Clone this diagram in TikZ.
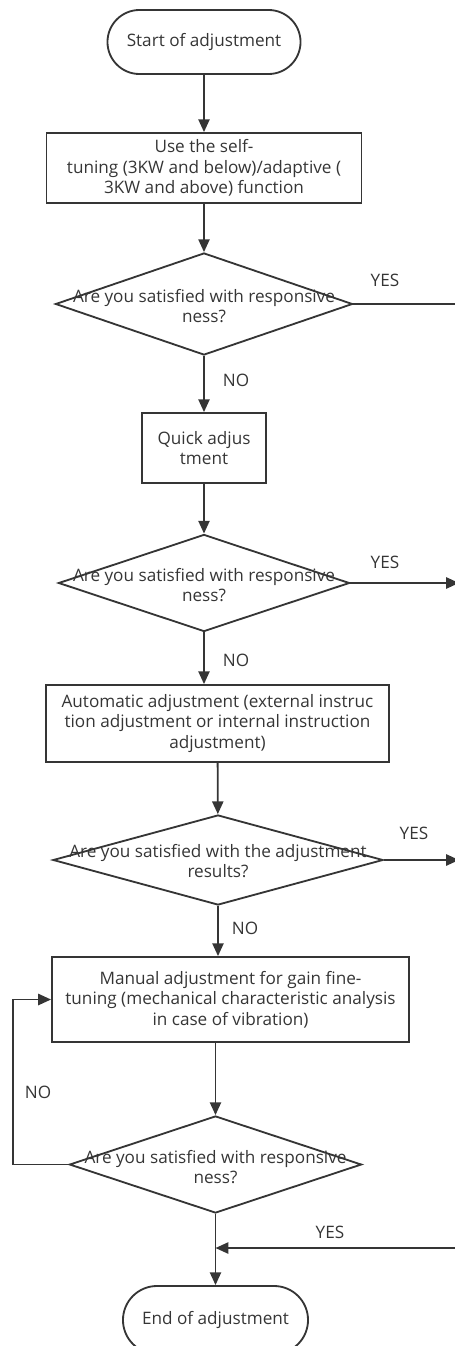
\documentclass[tikz,border=0pt]{standalone}
\usepackage{fontspec}
\setmainfont{Open Sans}
\usetikzlibrary{shapes.geometric,arrows.meta,positioning}
\definecolor{ink}{HTML}{353535}
\newcommand{\txt}{\fontsize{12.2}{14.6}\selectfont}

\begin{document}
\begin{tikzpicture}[x=0.025cm,y=-0.025cm,line width=1.3pt,color=ink,font=\txt,
    >={Triangle[length=3.2mm,width=2.8mm]},
    term/.style={draw,rectangle,rounded corners=0.8cm,inner sep=0pt},
    proc/.style={draw,rectangle,align=center,inner sep=0pt},
    dec/.style={draw,diamond,inner sep=0pt},
    lab/.style={inner sep=1pt}]
  \useasboundingbox (0,0) rectangle (454,1346);

  % boxes
  \node[term,minimum width=4.825cm,minimum height=1.6cm] (start) at (204,42) {Start of adjustment};
  \node[proc,minimum width=7.875cm,minimum height=1.75cm] (tune) at (204,168) {Use the self-\\tuning (3KW and below)/adaptive (\\3KW and above) function};
  \node[dec,minimum width=7.425cm,minimum height=2.55cm] (ask1) at (204,304) {};
  \node[align=center] (q1) at (204,306) {Are you satisfied with responsive\\ness?};
  \node[proc,minimum width=3.1cm,minimum height=1.75cm] (quick) at (204,448) {Quick adjus\\tment};
  \node[dec,minimum width=7.275cm,minimum height=2.425cm] (ask2) at (204,583) {};
  \node[align=center] (q2) at (204,585) {Are you satisfied with responsive\\ness?};
  \node[proc,minimum width=8.575cm,minimum height=1.925cm] (auto) at (217.5,723.5) {Automatic adjustment (external instruc\\tion adjustment or internal instruction\\adjustment)};
  \node[dec,minimum width=8.25cm,minimum height=2.25cm] (ask3) at (218,860) {};
  \node[align=center] (q3) at (218,861) {Are you satisfied with the adjustment\\results?};
  \node[proc,minimum width=8.925cm,minimum height=2.125cm] (manual) at (230.5,999.5) {Manual adjustment for gain fine-\\tuning (mechanical characteristic analysis\\in case of vibration)};
  \node[dec,minimum width=7.3cm,minimum height=2.425cm] (ask4) at (215.5,1164.5) {};
  \node[align=center] (q4) at (215.5,1167) {Are you satisfied with responsive\\ness?};
  \node[term,minimum width=4.625cm,minimum height=1.7cm,rounded corners=0.85cm] (end) at (215.5,1320) {End of adjustment};

  % labels
  \node[lab] (yes1) at (385,280) {YES}; \node[lab] (no1) at (236,380) {NO};
  \node[lab] (yes2) at (385,562) {YES}; \node[lab] (no2) at (236,660) {NO};
  \node[lab] (yes3) at (414,833) {YES}; \node[lab] (no3) at (245,928) {NO};
  \node[lab] (no4) at (38,1092) {NO};   \node[lab] (yes4) at (330,1232) {YES};

  \coordinate (out1) at (456,304); \coordinate (out2) at (459,583);
  \coordinate (out3) at (459,860); \coordinate (back) at (456,1248);
  \coordinate (loop) at (13,1164.5);

  % main flow
  \draw[->] (start) -- (tune);
  \draw[->] (tune) -- (ask1);
  \draw[->] (ask1) -- (quick);
  \draw[->] (quick) -- (ask2);
  \draw[->] (ask2.south) -- (ask2.south |- auto.north);
  \draw[->] (auto) -- (ask3);
  \draw[->] (ask3.south) -- (ask3.south |- manual.north);
  \draw[->] (manual.south -| ask4.north) -- (ask4.north);
  \draw[->] (ask4) -- (end);

  % yes branches and the loop back
  \draw (ask1.east) -- (out1);
  \draw[->] (ask2.east) -- (out2);
  \draw[->] (ask3.east) -- (out3);
  \draw[->] (back) -- (back -| end.north);
  \draw[->] (ask4.west) -- (loop) |- (manual.west);
\end{tikzpicture}
\end{document}
